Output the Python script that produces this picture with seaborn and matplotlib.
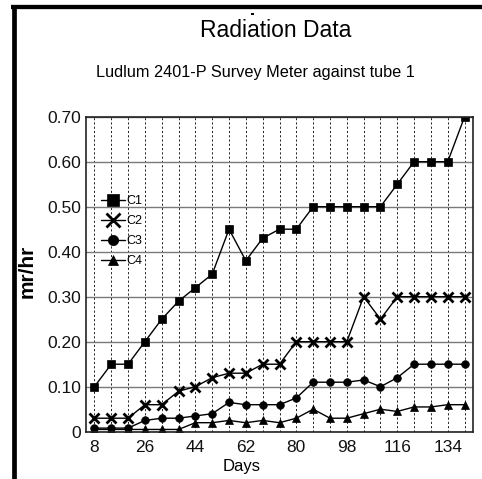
import numpy as np
import pandas as pd
import matplotlib
matplotlib.use("Agg")
import matplotlib.pyplot as plt
from matplotlib.lines import Line2D
import seaborn as sns

# ---- data ----
days = [8, 14, 20, 26, 32, 38, 44, 50, 56, 62, 68, 74, 80, 86, 92, 98, 104, 110, 116, 122, 128, 134, 140]
c1 = [0.10, 0.15, 0.15, 0.20, 0.25, 0.29, 0.32, 0.35, 0.45, 0.38, 0.43, 0.45, 0.45, 0.50, 0.50, 0.50, 0.50, 0.50, 0.55, 0.60, 0.60, 0.60, 0.70]
c2 = [0.03, 0.03, 0.03, 0.06, 0.06, 0.09, 0.10, 0.12, 0.13, 0.13, 0.15, 0.15, 0.20, 0.20, 0.20, 0.20, 0.30, 0.25, 0.30, 0.30, 0.30, 0.30, 0.30]
c3 = [0.008, 0.008, 0.008, 0.025, 0.03, 0.03, 0.035, 0.04, 0.065, 0.06, 0.06, 0.06, 0.075, 0.11, 0.11, 0.11, 0.115, 0.10, 0.12, 0.15, 0.15, 0.15, 0.15]
c4 = [0.005, 0.005, 0.005, 0.005, 0.005, 0.005, 0.02, 0.02, 0.025, 0.02, 0.025, 0.02, 0.03, 0.05, 0.03, 0.03, 0.04, 0.05, 0.045, 0.055, 0.055, 0.06, 0.06]
series_names = ["C1", "C2", "C3", "C4"]
xtick_labels = [8, 26, 44, 62, 80, 98, 116, 134]
ytick_values = [0, 0.10, 0.20, 0.30, 0.40, 0.50, 0.60, 0.70]
ytick_labels = ["0", "0.10", "0.20", "0.30", "0.40", "0.50", "0.60", "0.70"]

sns.set_style("white")
plt.rcParams["font.family"] = ["Liberation Sans", "DejaVu Sans"]
plt.rcParams["text.color"] = "black"
plt.rcParams["xtick.color"] = "black"
plt.rcParams["ytick.color"] = "black"

W, H = 482, 479
fig = plt.figure(figsize=(W / 100, H / 100), dpi=100)
L, R, T, B = 86, 473, 116.7, 431.7
ax = fig.add_axes([L / W, 1 - B / H, (R - L) / W, (B - T) / H])

styles = [
    dict(marker="s", markersize=6, markeredgewidth=0.5),
    dict(marker="x", markersize=7, markeredgewidth=2),
    dict(marker="o", markersize=5.5, markeredgewidth=0.5),
    dict(marker="^", markersize=5.5, markeredgewidth=0.5),
]
for name, vals, st in zip(series_names, [c1, c2, c3, c4], styles):
    sns.lineplot(x=days, y=vals, ax=ax, color="black", lw=1.0, label=name,
                 markeredgecolor="black", markerfacecolor="black", **st)

ax.set_xlim(5, 143)
ax.set_ylim(0, 0.70)
ax.set_xticks(days)
ax.set_xticklabels([str(d) if d in xtick_labels else "" for d in days])
ax.set_yticks(ytick_values)
ax.set_yticklabels(ytick_labels)
ax.tick_params(axis="both", length=0, labelsize=12.5, colors="#111111")
ax.tick_params(axis="x", pad=6, labelsize=12.5)
ax.tick_params(axis="y", pad=3.6)
ax.grid(False)
ax.grid(axis="y", color="#7a7a7a", lw=1.0, ls="-")
ax.grid(axis="x", color="#222222", lw=0.7, ls=(0, (2.2, 2.2)))
ax.set_axisbelow(True)
for s in ax.spines.values():
    s.set_visible(True)
    s.set_color("#222222")
    s.set_linewidth(1.2)
ax.set_xlabel("")
ax.set_ylabel("")

leg = ax.legend(loc="upper left", bbox_to_anchor=(101 / W, 1 - 195 / H),
                bbox_transform=fig.transFigure, frameon=False, fontsize=9,
                markerscale=1.35, handlelength=1.9, handletextpad=0.1,
                labelspacing=0.65, borderpad=0, borderaxespad=0)
for t in leg.get_texts():
    t.set_color("black")

fig.text(276 / W, 1 - 36.7 / H, "Radiation Data", ha="center", va="baseline", fontsize=16.5)
fig.text(255 / W, 1 - 77 / H, "Ludlum 2401-P Survey Meter against tube 1", ha="center",
         va="baseline", fontsize=11.7)
fig.text(242 / W, 1 - 471 / H, "Days", ha="center", va="baseline", fontsize=12)
fig.text(27 / W, 1 - 271 / H, "mr/hr", ha="center", va="center", rotation=90,
         fontsize=15, fontweight="bold")

# page frame lines
fig.add_artist(Line2D([11 / W, 1.0], [1 - 7.2 / H, 1 - 7.2 / H], transform=fig.transFigure,
                      color="black", lw=3.1, solid_capstyle="butt"))
fig.add_artist(Line2D([14.3 / W, 14.3 / W], [1 - 5 / H, 0], transform=fig.transFigure,
                      color="black", lw=3.4, solid_capstyle="butt"))
fig.add_artist(Line2D([250.7 / W, 254 / W], [1 - 14.3 / H, 1 - 14.3 / H], transform=fig.transFigure,
                      color="black", lw=1.4, solid_capstyle="butt"))

fig.savefig("out.png", dpi=100)
